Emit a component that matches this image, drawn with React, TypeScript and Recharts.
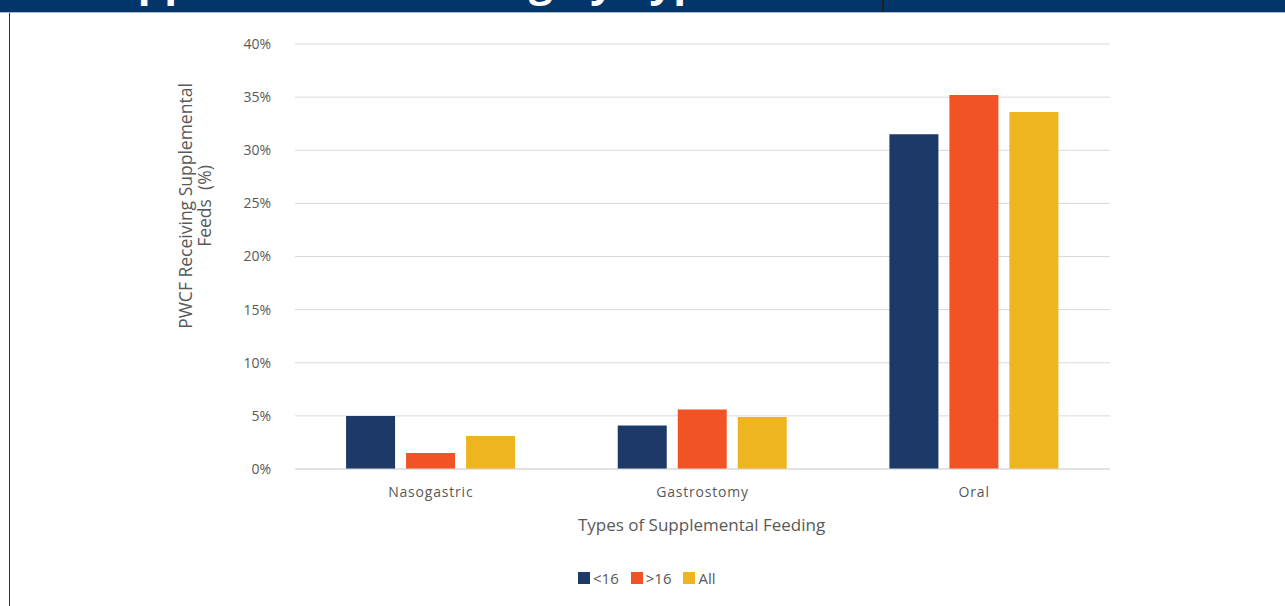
import { Bar, BarChart, CartesianGrid, XAxis, YAxis } from "recharts";

const CATEGORIES = ["Nasogastric", "Gastrostomy", "Oral"];
const UNDER_16 = [5.0, 4.1, 31.5];
const OVER_16 = [1.5, 5.6, 35.2];
const ALL = [3.1, 4.9, 33.6];
const Y_TICKS = [0, 5, 10, 15, 20, 25, 30, 35, 40];

const SERIES = [
  { key: "under16", name: "<16", color: "#1c3968" },
  { key: "over16", name: ">16", color: "#f15325" },
  { key: "all", name: "All", color: "#efb520" },
];

const data = CATEGORIES.map((category, i) => ({
  category,
  under16: UNDER_16[i],
  over16: OVER_16[i],
  all: ALL[i],
}));

const FONT = "'Open Sans', 'Liberation Sans', sans-serif";
const TEXT = "#595959";

function YTitle() {
  const x = 196;
  const y = 206;
  return (
    <text
      x={x}
      y={y}
      transform={`rotate(-90 ${x} ${y})`}
      textAnchor="middle"
      fill={TEXT}
      fontSize={17.5}
      fontFamily={FONT}
    >
      <tspan x={x} dy={-4}>PWCF Receiving Supplemental</tspan>
      <tspan x={x} dy={19}>{"Feeds\u00a0\u00a0(%)"}</tspan>
    </text>
  );
}

export default function App() {
  return (
    <div style={{ position: "absolute", left: 0, top: 0, width: 1285, height: 606, background: "#fff", overflow: "hidden" }}>
      {/* clipped slide title banner */}
      <div style={{ position: "absolute", left: 0, top: 0, width: 1285, height: 12, background: "#02366b", overflow: "hidden" }}>
        <div
          style={{
            position: "absolute",
            left: 40,
            top: -49,
            color: "#fff",
            fontFamily: FONT,
            fontWeight: 700,
            fontSize: 42,
            whiteSpace: "nowrap",
          }}
        >
          4. Supplemental Feeding by Type
        </div>
        <div style={{ position: "absolute", left: 882, top: 0, width: 2, height: 12, background: "#222" }} />
      </div>
      <div style={{ position: "absolute", left: 0, top: 12, width: 1285, height: 1, background: "#aabbd0" }} />
      <div style={{ position: "absolute", left: 9, top: 13, width: 1, height: 593, background: "#333" }} />

      <div style={{ position: "absolute", left: 0, top: 0 }}>
        <BarChart
          width={1285}
          height={606}
          data={data}
          margin={{ top: 44, right: 175, left: 235, bottom: 107 }}
          barCategoryGap="18.8%"
          barGap={11}
        >
          <CartesianGrid stroke="#d9d9d9" vertical={false} />
          <XAxis
            dataKey="category"
            height={30}
            tickLine={false}
            axisLine={{ stroke: "#d9d9d9" }}
            tick={{ fill: TEXT, fontSize: 14, fontFamily: FONT, letterSpacing: 0.8 }}
            tickMargin={12}
          />
          <YAxis
            width={60}
            domain={[0, 40]}
            ticks={Y_TICKS}
            tickFormatter={(v) => `${v}%`}
            axisLine={false}
            tickLine={false}
            tick={{ fill: TEXT, fontSize: 14, fontFamily: FONT }}
            tickMargin={18}
            label={<YTitle />}
          />
          {SERIES.map((s) => (
            <Bar key={s.key} dataKey={s.key} name={s.name} fill={s.color} isAnimationActive={false} />
          ))}
        </BarChart>
      </div>

      <div
        style={{
          position: "absolute",
          left: 0,
          width: 1403,
          top: 513,
          textAlign: "center",
          color: TEXT,
          fontFamily: FONT,
          fontSize: 17,
        }}
      >
        Types of Supplemental Feeding
      </div>

      <div
        style={{
          position: "absolute",
          left: 578,
          top: 568,
          display: "flex",
          alignItems: "center",
          color: TEXT,
          fontFamily: FONT,
          fontSize: 15,
        }}
      >
        {SERIES.map((s) => (
          <span key={s.key} style={{ display: "flex", alignItems: "center", marginRight: 12 }}>
            <span style={{ display: "inline-block", width: 12, height: 12, background: s.color, marginRight: 3 }} />
            {s.name}
          </span>
        ))}
      </div>
    </div>
  );
}
